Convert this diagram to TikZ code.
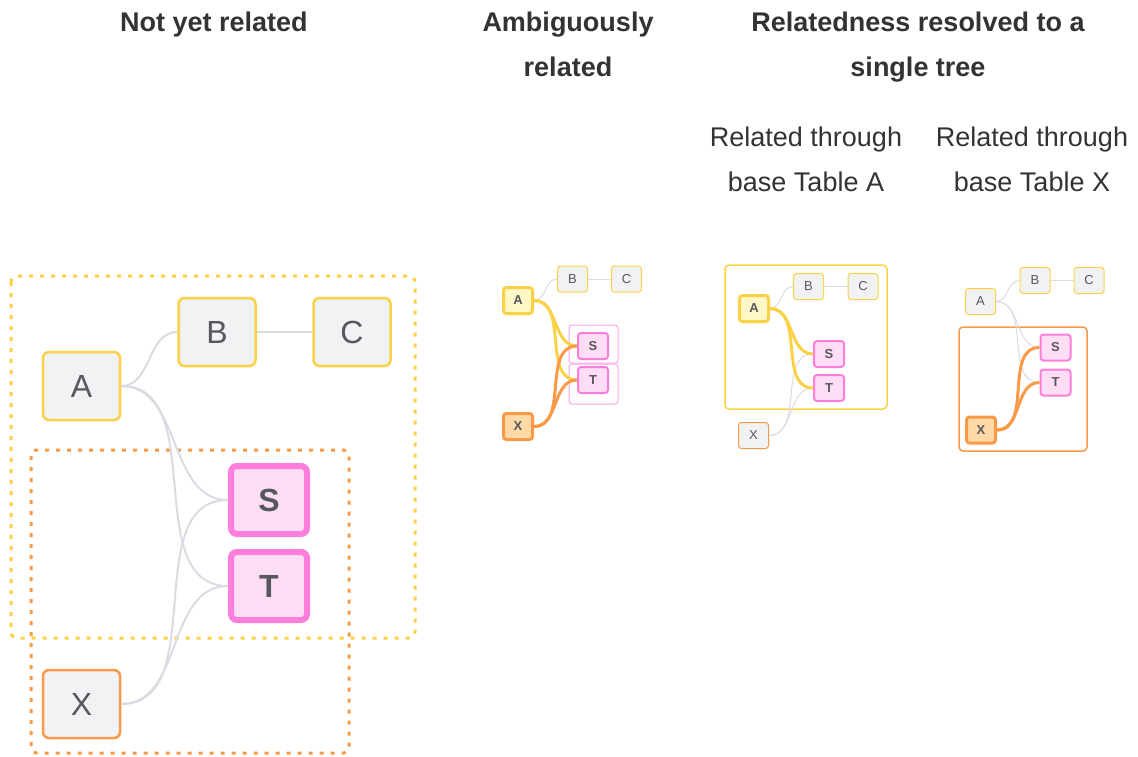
\documentclass[tikz,border=0pt]{standalone}
\usepackage{fontspec}
\setmainfont{Liberation Sans}
\begin{document}
\begin{tikzpicture}[x=1pt, y=-1pt,
    bigbox/.style={draw=tableYellow, fill=nodeFill, text=labelText, rounded corners=6pt, inner sep=0pt, line width=2.5pt, minimum width=77pt, minimum height=68pt, font=\bigFont},
    bigpink/.style={bigbox, draw=pinkLine, fill=pinkFill, line width=6pt, minimum width=76pt, minimum height=68pt, font=\bigFont\bfseries},
    smallbox/.style={draw=tableYellow, fill=nodeFill, text=labelText, rounded corners=3pt, inner sep=0pt, line width=1pt, minimum width=30pt, minimum height=26pt, font=\smallFont},
    smallpink/.style={smallbox, draw=pinkLine, fill=pinkFill, line width=2pt, font=\smallFont\bfseries},
    hotyellow/.style={smallbox, fill=yellowFill, line width=3pt, minimum width=29pt, font=\smallFont\bfseries},
    hotorange/.style={smallbox, draw=tableOrange, fill=orangeFill, line width=3pt, minimum width=29pt, font=\smallFont\bfseries},
    title/.style={align=center, text=titleText, inner sep=0pt, font=\titleFont},
    biglink/.style={draw=linkGray, line width=2pt},
    smalllink/.style={draw=linkGray, line width=1pt},
    yellowlink/.style={draw=tableYellow, line width=3pt},
    orangelink/.style={draw=tableOrange, line width=3pt}]

    \def\bigFont{\fontsize{32}{32}\selectfont}
    \def\smallFont{\fontsize{13}{13}\selectfont}
    \def\titleFont{\fontsize{27}{45}\selectfont}

    \definecolor{tableYellow}{HTML}{FBD247}
    \definecolor{tableOrange}{HTML}{F89A48}
    \definecolor{nodeFill}{HTML}{F1F2F4}
    \definecolor{yellowFill}{HTML}{FFF8C6}
    \definecolor{orangeFill}{HTML}{FFD9A6}
    \definecolor{pinkLine}{HTML}{FF7DDB}
    \definecolor{pinkFill}{HTML}{FFDDF5}
    \definecolor{pinkBox}{HTML}{FFA3E6}
    \definecolor{linkGray}{HTML}{D9DCE2}
    \definecolor{labelText}{HTML}{56575F}
    \definecolor{titleText}{HTML}{333333}

    % Page
    \useasboundingbox[fill=white] (0,0) rectangle (1138,757);

    % Titles
    \node[title] (t1) at (214,23) {\strut\bfseries Not yet related};
    \node[title] (t2) at (568,45.5) {\strut\bfseries Ambiguously\\\strut\bfseries related};
    \node[title] (t3) at (918,45.5) {\strut\bfseries Relatedness resolved to a\\\strut\bfseries single tree};
    \node[title] (t4) at (806,159.5) {\strut Related through\\\strut base Table A};
    \node[title] (t5) at (1032,159.5) {\strut Related through\\\strut base Table X};

    % Panel 1: not yet related
    \draw[tableYellow, line width=3pt, dash pattern=on 4pt off 7pt, rounded corners=6pt] (11,276) rectangle (415,638);
    \draw[tableOrange, line width=3pt, dash pattern=on 4pt off 7pt, rounded corners=6pt] (31,450) rectangle (349,753);

    \node[bigbox] (A1) at (81.5,386) {A};
    \node[bigbox] (B1) at (217,332) {B};
    \node[bigbox] (C1) at (352,332) {C};
    \node[bigpink] (S1) at (269,500) {S};
    \node[bigpink] (T1) at (269,586) {T};
    \node[bigbox, draw=tableOrange] (X1) at (81.5,704) {X};

    \draw[biglink] (A1.east) to[out=0,in=180] (B1.west);
    \draw[biglink] (B1) -- (C1);
    \draw[biglink] (A1.east) to[out=0,in=180] (S1.west);
    \draw[biglink] (A1.east) to[out=0,in=180] (T1.west);
    \draw[biglink] (X1.east) to[out=0,in=180] (S1.west);
    \draw[biglink] (X1.east) to[out=0,in=180] (T1.west);

    % Panel 2: ambiguously related
    \draw[pinkBox, line width=1pt, rounded corners=3pt] (569,325) rectangle (618,363);
    \draw[pinkBox, line width=1pt, rounded corners=3pt] (569,364) rectangle (618,404);

    \node[hotyellow] (A2) at (518,300.5) {A};
    \node[smallbox] (B2) at (572.5,279) {B};
    \node[smallbox] (C2) at (626.5,279) {C};
    \node[smallpink] (S2) at (593,346) {S};
    \node[smallpink] (T2) at (593,380) {T};
    \node[hotorange] (X2) at (518,426.5) {X};

    \draw[smalllink] (A2.east) to[out=0,in=180] (B2.west);
    \draw[smalllink] (B2) -- (C2);
    \draw[yellowlink] (A2.east) to[out=0,in=180] (S2.west);
    \draw[yellowlink] (A2.east) to[out=0,in=180] (T2.west);
    \draw[orangelink] (X2.east) to[out=0,in=180] (S2.west);
    \draw[orangelink] (X2.east) to[out=0,in=180] (T2.west);

    % Panel 3: through base table A
    \draw[tableYellow, line width=1.5pt, rounded corners=4pt] (725,265) rectangle (887,409);

    \node[hotyellow] (A3) at (754,308.5) {A};
    \node[smallbox] (B3) at (808.5,286.5) {B};
    \node[smallbox] (C3) at (863,286.5) {C};
    \node[smallpink] (S3) at (829,354) {S};
    \node[smallpink] (T3) at (829,388) {T};
    \node[smallbox, draw=tableOrange] (X3) at (753.5,435.5) {X};

    \draw[smalllink] (A3.east) to[out=0,in=180] (B3.west);
    \draw[smalllink] (B3) -- (C3);
    \draw[smalllink] (X3.east) to[out=0,in=180] (S3.west);
    \draw[smalllink] (X3.east) to[out=0,in=180] (T3.west);
    \draw[yellowlink] (A3.east) to[out=0,in=180] (S3.west);
    \draw[yellowlink] (A3.east) to[out=0,in=180] (T3.west);

    % Panel 4: through base table X
    \draw[tableOrange, line width=1.5pt, rounded corners=4pt] (959,327) rectangle (1087,451);

    \node[smallbox] (A4) at (980.5,301.5) {A};
    \node[smallbox] (B4) at (1035,280.5) {B};
    \node[smallbox] (C4) at (1089,280.5) {C};
    \node[smallpink] (S4) at (1055.5,347.5) {S};
    \node[smallpink] (T4) at (1055.5,382.5) {T};
    \node[hotorange] (X4) at (981,430) {X};

    \draw[smalllink] (A4.east) to[out=0,in=180] (B4.west);
    \draw[smalllink] (B4) -- (C4);
    \draw[smalllink] (A4.east) to[out=0,in=180] (S4.west);
    \draw[smalllink] (A4.east) to[out=0,in=180] (T4.west);
    \draw[orangelink] (X4.east) to[out=0,in=180] (S4.west);
    \draw[orangelink] (X4.east) to[out=0,in=180] (T4.west);

\end{tikzpicture}
\end{document}
